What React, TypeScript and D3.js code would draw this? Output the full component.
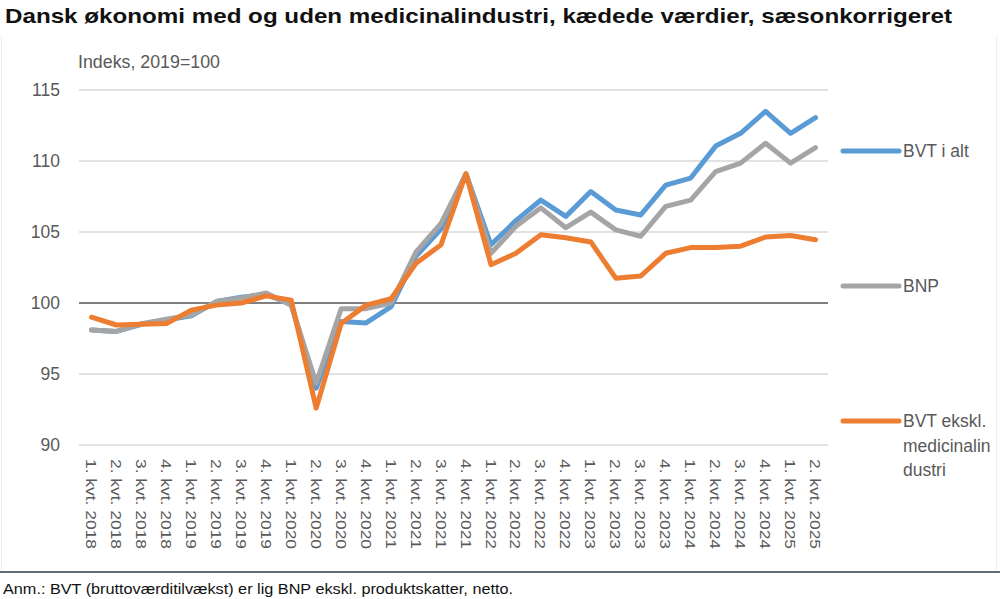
import * as d3 from 'd3'

const quarters = [
  '1. kvt. 2018', '2. kvt. 2018', '3. kvt. 2018', '4. kvt. 2018',
  '1. kvt. 2019', '2. kvt. 2019', '3. kvt. 2019', '4. kvt. 2019',
  '1. kvt. 2020', '2. kvt. 2020', '3. kvt. 2020', '4. kvt. 2020',
  '1. kvt. 2021', '2. kvt. 2021', '3. kvt. 2021', '4. kvt. 2021',
  '1. kvt. 2022', '2. kvt. 2022', '3. kvt. 2022', '4. kvt. 2022',
  '1. kvt. 2023', '2. kvt. 2023', '3. kvt. 2023', '4. kvt. 2023',
  '1. kvt. 2024', '2. kvt. 2024', '3. kvt. 2024', '4. kvt. 2024',
  '1. kvt. 2025', '2. kvt. 2025',
]

const bvtTotal = [
  98.1, 98.0, 98.5, 98.8, 99.1, 100.1, 100.4, 100.6, 99.9, 94.0,
  98.7, 98.6, 99.75, 103.3, 105.2, 109.1, 104.1, 105.8, 107.25, 106.1,
  107.85, 106.55, 106.2, 108.3, 108.8, 111.05, 111.95, 113.5, 111.95, 113.05,
]

const bnp = [
  98.1, 98.0, 98.55, 98.85, 99.15, 100.1, 100.35, 100.7, 99.85, 94.35,
  99.6, 99.6, 100.0, 103.6, 105.6, 109.1, 103.5, 105.4, 106.7, 105.3,
  106.4, 105.15, 104.7, 106.8, 107.25, 109.25, 109.85, 111.25, 109.85, 110.95,
]

const bvtExMed = [
  99.0, 98.45, 98.5, 98.55, 99.5, 99.85, 100.0, 100.5, 100.2, 92.6,
  98.55, 99.85, 100.3, 102.8, 104.1, 109.1, 102.7, 103.5, 104.8, 104.6,
  104.3, 101.75, 101.9, 103.5, 103.9, 103.9, 104.0, 104.65, 104.75, 104.45,
]

const yTickValues = [90, 95, 100, 105, 110, 115]

const series = [
  { name: 'BVT i alt', lines: ['BVT i alt'], values: bvtTotal, color: '#5B9BD5', legendY: 151 },
  { name: 'BNP', lines: ['BNP'], values: bnp, color: '#A5A5A5', legendY: 286 },
  {
    name: 'BVT ekskl. medicinalindustri',
    lines: ['BVT ekskl.', 'medicinalin', 'dustri'],
    values: bvtExMed,
    color: '#ED7D31',
    legendY: 421,
  },
]

export default function App() {
  const width = 1000
  const height = 599
  const plot = { left: 79, right: 828, top: 90, bottom: 445 }

  const xScale = d3.scaleBand<string>().domain(quarters).range([plot.left, plot.right])
  const xPos = (i: number) => xScale(quarters[i])! + xScale.bandwidth() / 2
  const yScale = d3.scaleLinear().domain([90, 115]).range([plot.bottom, plot.top])

  const line = d3
    .line<number>()
    .x((_, i) => xPos(i))
    .y((d) => yScale(d))

  const labelColor = '#595959'
  const font = '"Liberation Sans", Arial, sans-serif'

  return (
    <svg
      width={width}
      height={height}
      style={{ position: 'absolute', left: 0, top: 0, background: '#fff' }}
      fontFamily={font}
    >
      <rect x={0} y={0} width={width} height={height} fill="#fff" />
      <text
        x={5}
        y={23}
        fontSize={21}
        fontWeight="bold"
        fill="#111"
        textLength={947}
        lengthAdjust="spacingAndGlyphs"
      >
        Dansk økonomi med og uden medicinalindustri, kædede værdier, sæsonkorrigeret
      </text>
      <text x={78} y={68} fontSize={17.5} fill={labelColor} textLength={142} lengthAdjust="spacingAndGlyphs">
        Indeks, 2019=100
      </text>

      {/* faint frame */}
      <line x1={1.5} x2={1.5} y1={36} y2={572} stroke="#eee" />
      <line x1={996.5} x2={996.5} y1={36} y2={572} stroke="#eee" />

      {/* y axis grid + labels */}
      <g>
        {yTickValues.map((v) => (
          <g key={v} transform={`translate(0, ${yScale(v)})`}>
            <line
              x1={plot.left}
              x2={plot.right}
              stroke={v === 100 ? '#808080' : '#d9d9d9'}
              strokeWidth={v === 100 ? 2 : 1.5}
            />
            <text x={60} dy="0.35em" textAnchor="end" fontSize={17.5} fill={labelColor}>
              {v}
            </text>
          </g>
        ))}
      </g>

      {/* x axis labels */}
      <g fontSize={15.5} fill={labelColor}>
        {quarters.map((q, i) => (
          <text
            key={q}
            transform={`translate(${xPos(i)}, 459) rotate(90)`}
            dy="0.35em"
            textAnchor="start"
            textLength={90}
            lengthAdjust="spacingAndGlyphs"
          >
            {q}
          </text>
        ))}
      </g>

      {/* series */}
      <g fill="none" strokeWidth={5} strokeLinejoin="round" strokeLinecap="round">
        {series.map((s) => (
          <path key={s.name} d={line(s.values)!} stroke={s.color} />
        ))}
      </g>

      {/* legend */}
      <g fontSize={17.5} fill={labelColor}>
        {series.map((s) => (
          <g key={s.name}>
            <line
              x1={843}
              x2={899}
              y1={s.legendY}
              y2={s.legendY}
              stroke={s.color}
              strokeWidth={5}
              strokeLinecap="round"
            />
            {s.lines.map((t, j) => (
              <text key={t} x={903} y={s.legendY + j * 24.5} dy="0.35em">
                {t}
              </text>
            ))}
          </g>
        ))}
      </g>

      {/* footnote */}
      <line x1={0} x2={width} y1={572} y2={572} stroke="#5f6f75" strokeWidth={2} />
      <text
        x={3}
        y={594}
        fontSize={15.5}
        fill="#111"
        textLength={510}
        lengthAdjust="spacingAndGlyphs"
      >
        Anm.: BVT (bruttoværditilvækst) er lig BNP ekskl. produktskatter, netto.
      </text>
    </svg>
  )
}
